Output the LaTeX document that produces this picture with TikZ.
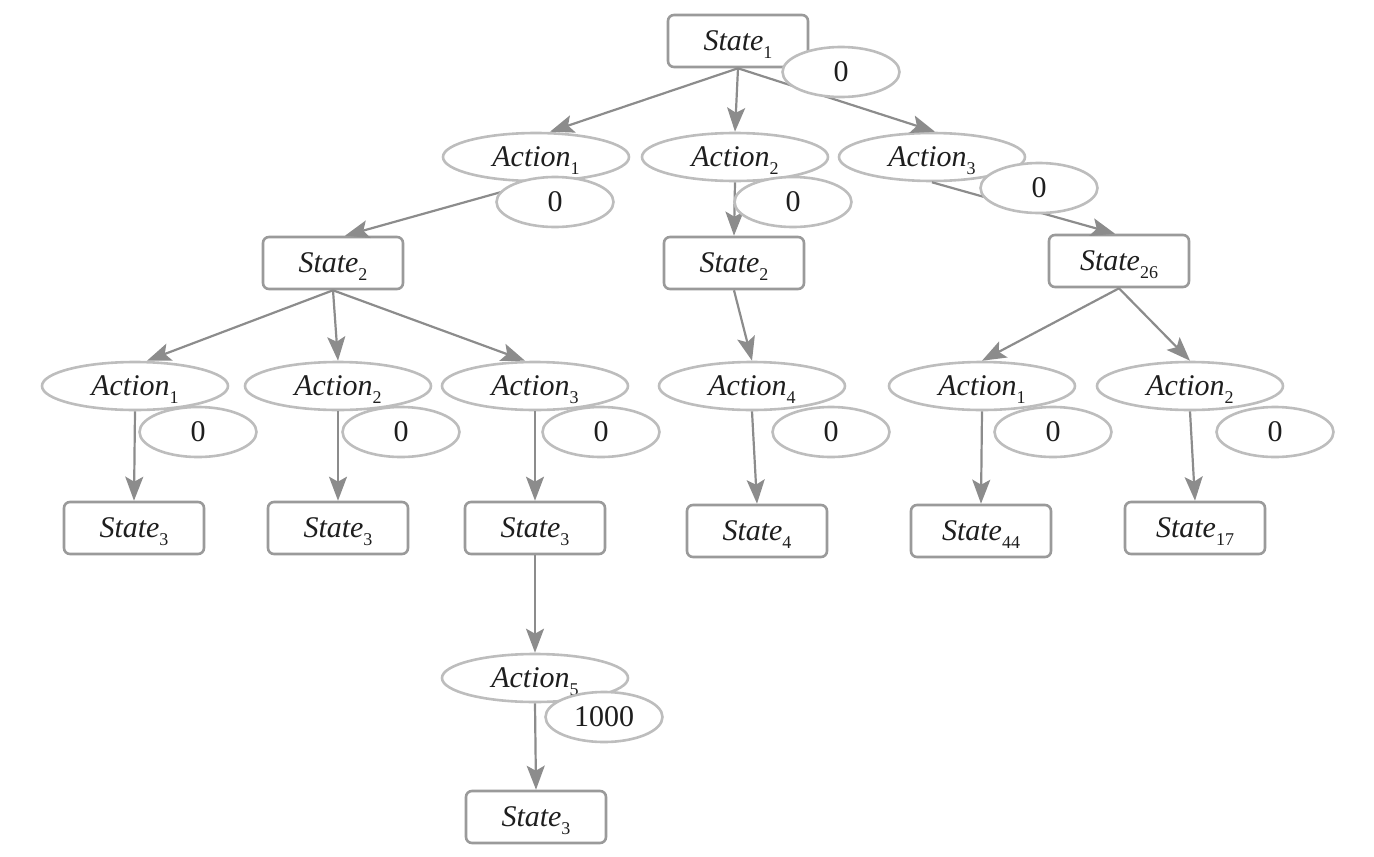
\documentclass[tikz,border=0pt]{standalone}
\usepackage{fontspec}
\setmainfont{Liberation Serif}
\usetikzlibrary{shapes.geometric,arrows.meta}
\definecolor{boxc}{HTML}{9A9A9A}
\definecolor{ellc}{HTML}{BDBDBD}
\definecolor{arrc}{HTML}{8C8C8C}
\definecolor{txtc}{HTML}{1E1E1E}
\newcommand\lbl[2]{\textit{#1}\raisebox{-8pt}[0pt][0pt]{\fontsize{18}{18}\selectfont #2}}
\begin{document}
\begin{tikzpicture}[x=1pt,y=-1pt,
  statebox/.style={draw=boxc,line width=2.6pt,rounded corners=6pt,fill=white,
    minimum width=140pt,minimum height=52pt,inner sep=0pt,text=txtc,
    font=\fontsize{30}{32}\selectfont},
  actell/.style={ellipse,draw=ellc,line width=2.6pt,fill=white,
    minimum width=186pt,minimum height=48pt,inner sep=0pt,text=txtc,
    font=\fontsize{30}{32}\selectfont},
  valell/.style={ellipse,draw=ellc,line width=2.6pt,fill=white,
    minimum width=117pt,minimum height=50pt,inner sep=0pt,text=txtc,
    font=\fontsize{30}{32}\selectfont},
  edge/.style={draw=arrc,line width=2.2pt,-{Stealth[length=24pt,width=18pt,inset=5pt]}}]
\useasboundingbox (0,0) rectangle (1374,857);

% nodes
\node[statebox] (s1) at (738,41) {\lbl{State}{1}};
\node[actell] (a1) at (536,157) {\lbl{Action}{1}};
\node[actell] (a2) at (735,157) {\lbl{Action}{2}};
\node[actell] (a3) at (932,157) {\lbl{Action}{3}};
\node[statebox] (s2) at (333,263) {\lbl{State}{2}};
\node[statebox] (s2m) at (734,263) {\lbl{State}{2}};
\node[statebox] (s26) at (1119,261) {\lbl{State}{26}};
\node[actell] (b1) at (135,386) {\lbl{Action}{1}};
\node[actell] (b2) at (338,386) {\lbl{Action}{2}};
\node[actell] (b3) at (535,386) {\lbl{Action}{3}};
\node[actell] (b4) at (752,386) {\lbl{Action}{4}};
\node[actell] (b5) at (982,386) {\lbl{Action}{1}};
\node[actell] (b6) at (1190,386) {\lbl{Action}{2}};
\node[statebox] (t1) at (134,528) {\lbl{State}{3}};
\node[statebox] (t2) at (338,528) {\lbl{State}{3}};
\node[statebox] (t3) at (535,528) {\lbl{State}{3}};
\node[statebox] (t4) at (757,531) {\lbl{State}{4}};
\node[statebox] (t5) at (981,531) {\lbl{State}{44}};
\node[statebox] (t6) at (1195,528) {\lbl{State}{17}};
\node[actell] (a5) at (535,678) {\lbl{Action}{5}};
\node[statebox] (t7) at (536,817) {\lbl{State}{3}};

% edges
\path[edge] (s1.south) -- ([xshift=14pt]a1.north);
\path[edge] (s1.south) -- (a2.north);
\path[edge] (s1.south) -- ([xshift=3pt]a3.north);
\path[edge] (a1.south) -- ([xshift=12pt]s2.north);
\path[edge] (a2.south) -- (s2m.north);
\path[edge] (a3.south) -- ([xshift=-4pt]s26.north);
\path[edge] (s2.south) -- ([xshift=12pt]b1.north);
\path[edge] (s2.south) -- (b2.north);
\path[edge] (s2.south) -- ([xshift=-10pt]b3.north);
\path[edge] (s2m.south) -- (b4.north);
\path[edge] (s26.south) -- (b5.north);
\path[edge] (s26.south) -- (b6.north);
\path[edge] (b1.south) -- (t1.north);
\path[edge] (b2.south) -- (t2.north);
\path[edge] (b3.south) -- (t3.north);
\path[edge] (b4.south) -- (t4.north);
\path[edge] (b5.south) -- (t5.north);
\path[edge] (b6.south) -- (t6.north);
\path[edge] (t3.south) -- (a5.north);
\path[edge] (a5.south) -- (t7.north);

% value ellipses (on top)
\node[valell] (v1) at (841,72) {0};
\node[valell] (va1) at (555,202) {0};
\node[valell] (va2) at (793,202) {0};
\node[valell] (va3) at (1039,188) {0};
\node[valell] (vb1) at (198,432) {0};
\node[valell] (vb2) at (401,432) {0};
\node[valell] (vb3) at (601,432) {0};
\node[valell] (vb4) at (831,432) {0};
\node[valell] (vb5) at (1053,432) {0};
\node[valell] (vb6) at (1275,432) {0};
\node[valell] (va5) at (604,717) {1000};
\end{tikzpicture}
\end{document}
